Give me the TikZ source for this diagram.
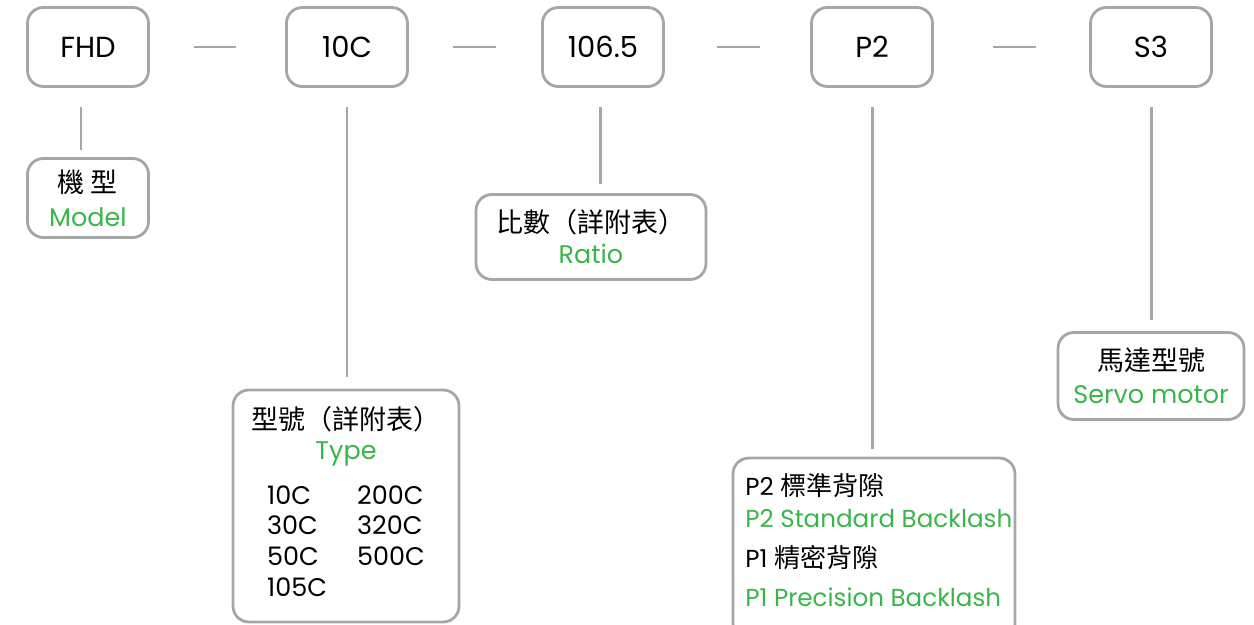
\documentclass[tikz,border=0pt]{standalone}
\usepackage{fontspec}
\setmainfont{Poppins}
\newfontfamily\cjk[Scale=1.06]{Noto Sans CJK TC}
\definecolor{boxgray}{HTML}{A6A6A6}
\definecolor{labgreen}{HTML}{3AB54A}
\tikzset{
  codebox/.style={draw=boxgray, line width=1.6pt, rounded corners=9pt,
    inner sep=0pt, align=center, font=\fontsize{14.5}{17.6}\selectfont},
  plaintext/.style={inner sep=0pt, align=left, font=\fontsize{14}{17.6}\selectfont},
  link/.style={draw=boxgray, line width=1.7pt},
}
\newcommand{\en}[1]{\textcolor{labgreen}{#1}}
\begin{document}
\begin{tikzpicture}[x=0.02cm,y=-0.02cm]
  \clip (0,0) rectangle (1254,625);

  % code boxes
  \begin{scope}[every node/.style={codebox, minimum width=2.42cm, minimum height=1.58cm,
      font=\fontsize{16.5}{20}\selectfont}]
    \node (fhd)  at (88,47)   {FHD};
    \node (tenc) at (347,47)  {10C};
    \node (num)  at (603,47)  {106.5};
    \node (ptwo) at (872,47)  {P2};
    \node (sthr) at (1151,47) {S3};
  \end{scope}

  % description boxes
  \node[codebox, minimum width=2.42cm, minimum height=1.58cm] (model) at (88,198)
    {{\cjk 機 型}\\[1.5pt]\en{Model}};
  \node[codebox, minimum width=4.52cm, minimum height=4.64cm] (type) at (346,506)
    {{\cjk 型號（詳附表）}\\[0pt]\en{Type}\\[8pt]
     \begin{tabular}{@{}p{1.8cm}@{}l@{}}
       10C & 200C\\ 30C & 320C\\ 50C & 500C\\ 105C & \\
     \end{tabular}};
  \node[codebox, minimum width=4.6cm, minimum height=1.7cm] (ratio) at (591,237)
    {{\cjk 比數（詳附表）}\\\en{Ratio}};
  \node[codebox, minimum width=5.64cm, minimum height=3.64cm] (back) at (874,549) {};
  \node[plaintext, anchor=west] (backtext) at (745,540)
    {P2 {\cjk 標準背隙}\\[0.5pt]\en{P2 Standard Backlash}\\[5pt]
     P1 {\cjk 精密背隙}\\[4.5pt]\en{P1 Precision Backlash}};
  \node[codebox, minimum width=3.72cm, minimum height=1.74cm] (servo) at (1151,376)
    {{\cjk 馬達型號}\\[1pt]\en{Servo motor}};

  % dashes between codes
  \path[link, shorten <=0.88cm, shorten >=0.98cm] (fhd) -- (tenc);
  \path[link, shorten <=0.88cm, shorten >=0.9cm] (tenc) -- (num);
  \path[link, shorten <=1.04cm, shorten >=1.0cm] (num) -- (ptwo);
  \path[link, shorten <=1.18cm, shorten >=1.06cm] (ptwo) -- (sthr);

  % drop lines
  \path[link, shorten <=0.38cm, shorten >=0.14cm] ([xshift=-0.14cm]fhd.south) -- ([xshift=-0.14cm]model.north);
  \path[link, shorten <=0.38cm, shorten >=0.24cm] (tenc.south) -- (tenc.south |- type.north);
  \path[link, shorten <=0.38cm, shorten >=0.18cm] ([xshift=-0.06cm]num.south) -- ([xshift=-0.06cm]num.south |- ratio.north);
  \path[link, shorten <=0.38cm, shorten >=0.16cm] (ptwo.south) -- (ptwo.south |- back.north);
  \path[link, shorten <=0.38cm, shorten >=0.22cm] (sthr.south) -- (sthr.south |- servo.north);
\end{tikzpicture}
\end{document}
